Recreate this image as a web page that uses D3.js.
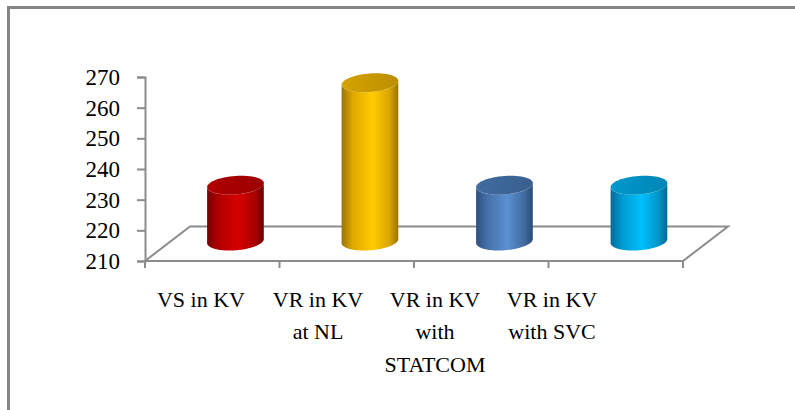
<!DOCTYPE html>
<html>
<head>
<meta charset="utf-8">
<script src="https://cdn.jsdelivr.net/npm/d3@7"></script>
<style>
  html, body { margin: 0; padding: 0; background: #fff; }
  svg { display: block; }
</style>
</head>
<body>
<svg id="chart" width="795" height="410"></svg>
<script>
// Voltage levels (kV)
const categories = ["VS", "VR_NL", "VR_STATCOM", "VR_SVC"];
const categoryLabels = [
  ["VS in KV"],
  ["VR in KV", "at NL"],
  ["VR in KV", "with", "STATCOM"],
  ["VR in KV", "with SVC"]
];
const values = [228.2, 261.6, 228.2, 228.2];
const yTicks = [210, 220, 230, 240, 250, 260, 270];

const sideColors = [
  ["#760000", "#b00000", "#d60000", "#a80000", "#6a0000"],
  ["#9a7400", "#e0a800", "#ffcc00", "#d8a400", "#987200"],
  ["#2d5080", "#4570a8", "#5a90d2", "#416ba0", "#2a4a76"],
  ["#006a98", "#0099d0", "#00c0ff", "#0094c6", "#006894"]
];
const topColors = ["#a60000", "#c99a00", "#3d6698", "#0090c2"];

const svg = d3.select("#chart");
svg.append("rect").attr("width", 795).attr("height", 410).attr("fill", "#fff");

// outer frame (open on the right and bottom)
svg.append("path")
  .attr("d", "M8.5,410V7.5H795")
  .attr("fill", "none").attr("stroke", "#868686").attr("stroke-width", 3);

// plot geometry
const x0 = 145, x1 = 683, yBottom = 261, yTop = 77;
const depth = { dx: 45, dy: -34.5 };      // floor depth offset
const barOff = { dx: 23.2, dy: -20 };     // where the cylinders stand on the floor

const y = d3.scaleLinear().domain([210, 270]).range([yBottom, yTop]);
const x = d3.scaleBand().domain(categories).range([x0, x1]);
const xl = d3.scalePoint().domain(categories).range([201, 552]);

const axisGray = "#8c8c8c";

// floor
svg.append("path")
  .attr("d", d3.line()([
    [x0, yBottom], [x1, yBottom],
    [x1 + depth.dx, yBottom + depth.dy], [x0 + depth.dx, yBottom + depth.dy]
  ]) + "Z")
  .attr("fill", "#fff").attr("stroke", axisGray).attr("stroke-width", 2);

// category ticks under the front edge
const tickXs = categories.map(c => x(c)).concat([x1]);
svg.append("g").selectAll("line").data(tickXs).join("line")
  .attr("x1", d => d).attr("x2", d => d)
  .attr("y1", yBottom).attr("y2", yBottom + 7)
  .attr("stroke", axisGray).attr("stroke-width", 2);

// value axis (text uses the page's default serif face)
const yAxis = svg.append("g")
  .attr("transform", `translate(${x0},0)`)
  .call(d3.axisLeft(y).tickValues(yTicks).tickSize(8).tickPadding(17).tickFormat(d3.format("d")));
yAxis.attr("font-family", null).attr("font-size", null);
yAxis.select(".domain").attr("stroke", axisGray).attr("stroke-width", 2);
yAxis.selectAll(".tick line").attr("stroke", axisGray).attr("stroke-width", 2);
yAxis.selectAll(".tick text").attr("font-size", 23).attr("fill", "#000");

// gradients
const defs = svg.append("defs");
const stopOffsets = [0, 0.2, 0.55, 0.85, 1];
categories.forEach((c, i) => {
  const g = defs.append("linearGradient").attr("id", "side" + i)
    .attr("x1", 0).attr("x2", 1).attr("y1", 0).attr("y2", 0);
  sideColors[i].forEach((col, k) => g.append("stop").attr("offset", stopOffsets[k]).attr("stop-color", col));
  const tg = defs.append("linearGradient").attr("id", "top" + i)
    .attr("x1", 0).attr("x2", 1).attr("y1", 0).attr("y2", 0);
  tg.append("stop").attr("offset", 0).attr("stop-color", d3.color(topColors[i]).brighter(0.15));
  tg.append("stop").attr("offset", 1).attr("stop-color", d3.color(topColors[i]).darker(0.2));
});

// cylinder cross-section: ellipse spanned by a horizontal half-axis and a depth half-vector
const ell = { a: 27.7, bx: 6, by: -9.5 };
const pt = (cx, cy, t) => [cx + ell.a * Math.cos(t) + ell.bx * Math.sin(t), cy + ell.by * Math.sin(t)];
const tR = Math.atan2(ell.bx, ell.a);
const tL = tR + Math.PI;
const N = 60;
const frontArc = (cx, cy) => d3.range(N + 1).map(k => pt(cx, cy, tL + Math.PI * k / N));
const fullEllipse = (cx, cy) => d3.range(N).map(k => pt(cx, cy, 2 * Math.PI * k / N));

const bars = svg.append("g").selectAll("g").data(categories).join("g");
bars.each(function (c, i) {
  const g = d3.select(this);
  const cx = x(c) + x.bandwidth() / 2 + barOff.dx;
  const cyBase = y(210) + barOff.dy;
  const cyTop = y(values[i]) + barOff.dy;
  const bottom = frontArc(cx, cyBase);
  const topFront = frontArc(cx, cyTop).reverse();
  g.append("path")
    .attr("d", d3.line()(bottom.concat(topFront)) + "Z")
    .attr("fill", `url(#side${i})`);
  g.append("path")
    .attr("d", d3.line()(fullEllipse(cx, cyTop)) + "Z")
    .attr("fill", `url(#top${i})`);
});

// category labels
const lineStep = 32.5, firstBaseline = 306.5;
const lab = svg.append("g").selectAll("text").data(categories).join("text")
  .attr("text-anchor", "middle").attr("font-size", 22).attr("fill", "#000");
lab.each(function (c, i) {
  d3.select(this).selectAll("tspan").data(categoryLabels[i]).join("tspan")
    .attr("x", xl(c))
    .attr("y", (d, k) => firstBaseline + k * lineStep)
    .text(d => d);
});
</script>
</body>
</html>
